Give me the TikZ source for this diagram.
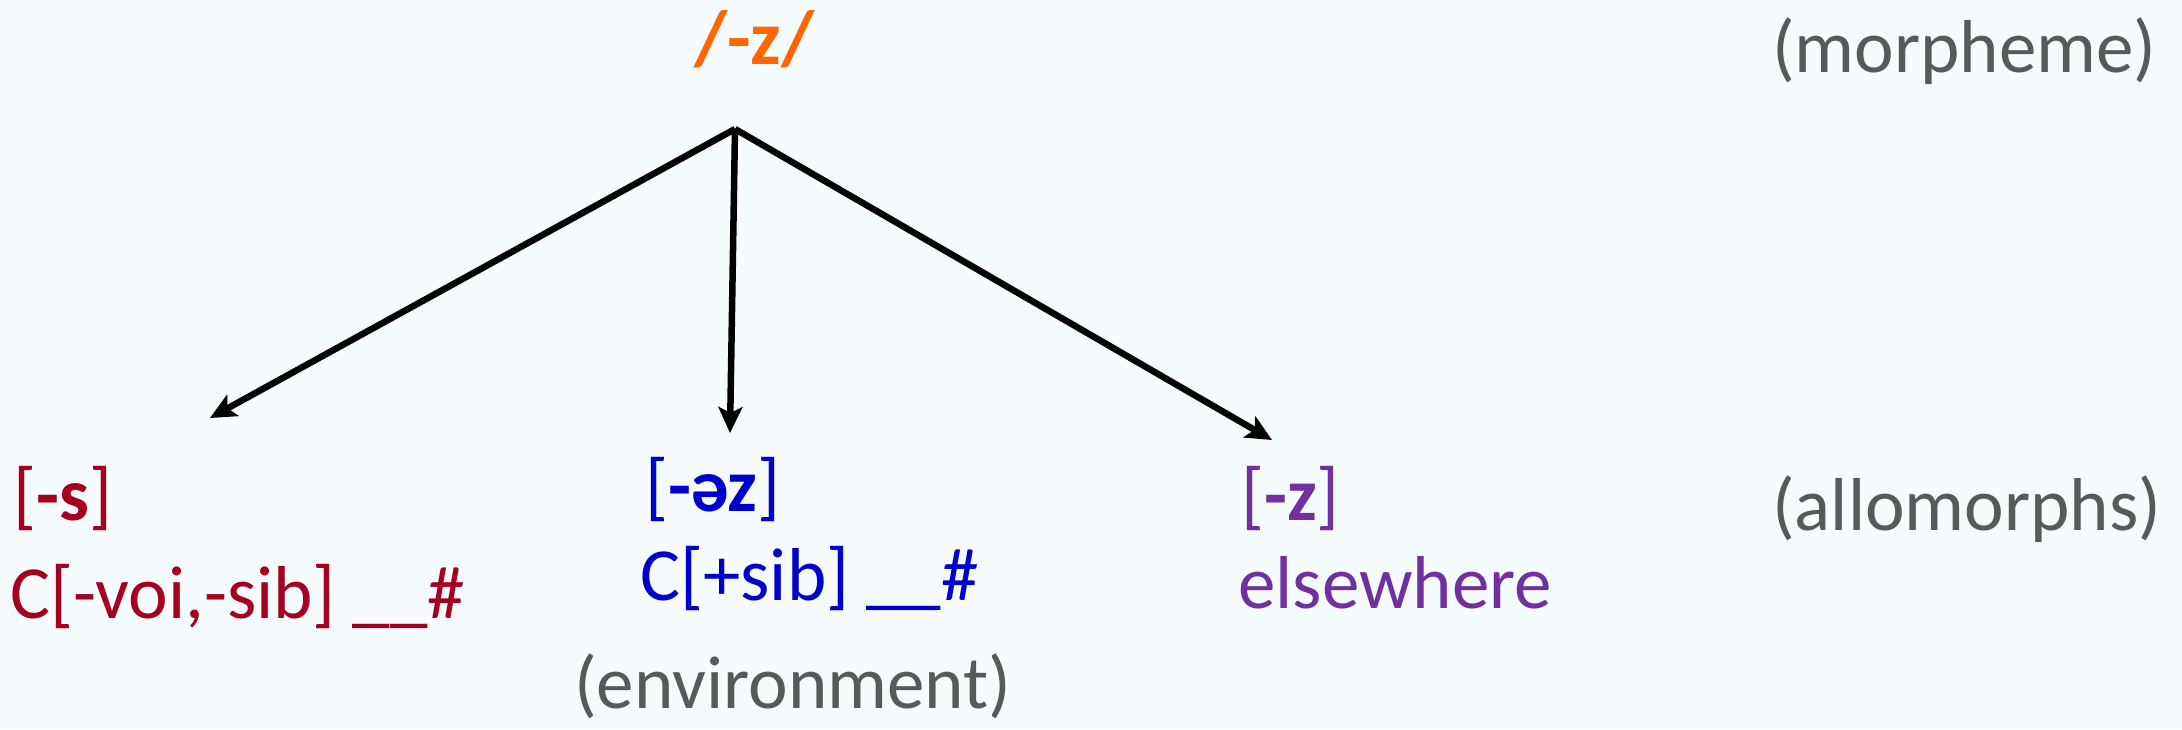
\documentclass[tikz,border=0pt]{standalone}
\usepackage{fontspec}
\setmainfont{Carlito}
\usetikzlibrary{arrows.meta}
\definecolor{bgc}{RGB}{246,251,254}
\definecolor{orng}{RGB}{255,102,0}
\definecolor{redc}{RGB}{165,0,33}
\definecolor{bluec}{RGB}{0,0,204}
\definecolor{purp}{RGB}{112,48,160}
\definecolor{grayc}{RGB}{89,89,89}
\tikzset{
  txt/.style={inner sep=0pt, anchor=base west, font=\fontsize{75}{90}\selectfont},
  arr/.style={line width=6.5pt, -{Stealth[length=26pt,width=24pt,inset=6pt]}},
}
\begin{document}
\begin{tikzpicture}[x=1pt,y=-1pt]
\useasboundingbox[fill=bgc] (0,0) rectangle (2182,729);
\node[txt, text=orng, font=\fontsize{77}{90}\selectfont\bfseries] (morph) at (694,64) {/-z/};
\node[txt, text=grayc] (lmorph) at (1772,72) {(morpheme)};
\node[txt, text=grayc] (lallo) at (1772,530) {(allomorphs)};
\node[txt, text=grayc] (lenv) at (574,708) {(environment)};
\node[txt, text=redc] (s) at (13,520) {[\textbf{-s}]};
\node[txt, text=redc] (senv) at (10,618) {C[-voi,-sib] \_\_\#};
\node[txt, text=bluec] (ez) at (645,511) {[\textbf{-əz}]};
\node[txt, text=bluec] (ezenv) at (640,600) {C[+sib] \_\_\#};
\node[txt, text=purp] (z) at (1241,520) {[\textbf{-z}]};
\node[txt, text=purp] (zenv) at (1238,608) {elsewhere};
\coordinate (root) at (735,129);
\coordinate (tipS) at (210,418);
\coordinate (tipEZ) at (730,433);
\coordinate (tipZ) at (1272,440);
\draw[arr] (root) -- (tipS);
\draw[arr] (root) -- (tipEZ);
\draw[arr] (root) -- (tipZ);
\end{tikzpicture}
\end{document}
